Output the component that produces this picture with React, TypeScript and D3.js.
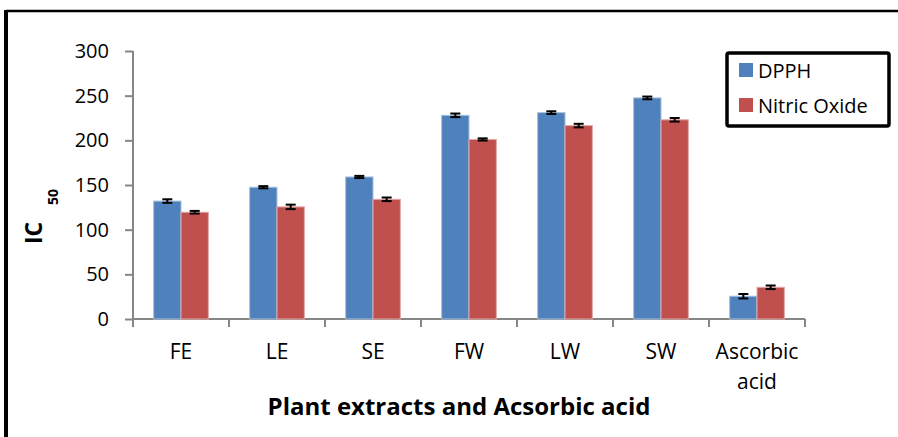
import React, { useEffect, useRef } from 'react';
import * as d3 from 'd3';

const categories = ['FE', 'LE', 'SE', 'FW', 'LW', 'SW', 'Ascorbic acid'];
const seriesNames = ['DPPH', 'Nitric Oxide'];
const dpph = [132, 147.5, 159, 228, 231, 247.5, 25.5];
const nitricOxide = [119.5, 125.5, 134, 201, 216.5, 223, 35.5];
const dpphErr = [2, 1.2, 1.2, 2, 1.5, 1.5, 2.5];
const nitricErr = [1.5, 2.5, 2, 1.2, 2, 2, 2];
const yTicks = [0, 50, 100, 150, 200, 250, 300];

const colors = ['#4F81BD', '#C0504D'];
const edge = ['#A7C0DE', '#E3A9A8'];
const FONT = '"Open Sans", "DejaVu Sans", sans-serif';

const W = 898;
const H = 437;

const App: React.FC = () => {
  const svgRef = useRef<SVGSVGElement>(null);

  useEffect(() => {
    if (!svgRef.current) return;
    const svg = d3.select(svgRef.current);
    svg.selectAll('*').remove();

    // Outer frame (top and left edges visible)
    svg.append('line').attr('x1', 6).attr('x2', W).attr('y1', 11).attr('y2', 11)
      .attr('stroke', '#000').attr('stroke-width', 2.5);
    svg.append('line').attr('x1', 6).attr('x2', 6).attr('y1', 10).attr('y2', H)
      .attr('stroke', '#000').attr('stroke-width', 4);

    const left = 133, right = 805, top = 51, bottom = 319;

    const x = d3.scaleBand<string>()
      .domain(categories)
      .range([left, right])
      .paddingInner(0.43)
      .paddingOuter(0.215);

    const xSub = d3.scaleBand<string>()
      .domain(seriesNames)
      .range([0, x.bandwidth()]);

    const y = d3.scaleLinear().domain([0, 300]).range([bottom, top]);

    const axisColor = '#868686';

    // Y axis
    const yAxis = svg.append('g').attr('transform', `translate(${left},0)`)
      .call(d3.axisLeft(y).tickValues(yTicks).tickSize(8).tickPadding(16));
    yAxis.select('.domain').attr('stroke', axisColor).attr('stroke-width', 2)
      .attr('d', `M0,${top}V${bottom}`);
    yAxis.selectAll('.tick line').attr('stroke', axisColor).attr('stroke-width', 2);
    yAxis.selectAll('.tick text')
      .attr('font-family', FONT).attr('font-size', 20).attr('fill', '#000');

    // X axis line and separators
    svg.append('line').attr('x1', left).attr('x2', right).attr('y1', bottom).attr('y2', bottom)
      .attr('stroke', axisColor).attr('stroke-width', 2);
    const step = x.step();
    const boundaries = d3.range(categories.length + 1).map(i => left + i * step);
    svg.append('g').selectAll('line').data(boundaries).join('line')
      .attr('x1', d => d).attr('x2', d => d)
      .attr('y1', bottom).attr('y2', bottom + 8)
      .attr('stroke', axisColor).attr('stroke-width', 2);

    // Category labels
    const catG = svg.append('g');
    categories.forEach(c => {
      const cx = (x(c) ?? 0) + x.bandwidth() / 2;
      const words = c === 'Ascorbic acid' ? ['Ascorbic', 'acid'] : [c];
      words.forEach((w, i) => {
        catG.append('text')
          .attr('x', cx).attr('y', 359 + i * 30)
          .attr('text-anchor', 'middle')
          .attr('font-family', FONT).attr('font-size', 21)
          .attr('fill', '#000')
          .text(w);
      });
    });

    // Bars
    const seriesValues = [dpph, nitricOxide];
    const seriesErrs = [dpphErr, nitricErr];
    seriesNames.forEach((s, si) => {
      const g = svg.append('g');
      g.selectAll('rect').data(categories).join('rect')
        .attr('x', c => (x(c) ?? 0) + (xSub(s) ?? 0))
        .attr('y', (_c, i) => y(seriesValues[si][i]))
        .attr('width', xSub.bandwidth())
        .attr('height', (_c, i) => bottom - y(seriesValues[si][i]))
        .attr('fill', colors[si])
        .attr('stroke', edge[si])
        .attr('stroke-width', 1);
    });

    // Error bars
    seriesNames.forEach((s, si) => {
      const g = svg.append('g').attr('stroke', '#000').attr('stroke-width', 2);
      categories.forEach((c, i) => {
        const cx = (x(c) ?? 0) + (xSub(s) ?? 0) + xSub.bandwidth() / 2;
        const v = seriesValues[si][i];
        const e = seriesErrs[si][i];
        const y1 = y(v + e), y2 = y(v - e);
        g.append('line').attr('x1', cx).attr('x2', cx).attr('y1', y1).attr('y2', y2);
        g.append('line').attr('x1', cx - 5).attr('x2', cx + 5).attr('y1', y1).attr('y2', y1);
        g.append('line').attr('x1', cx - 5).attr('x2', cx + 5).attr('y1', y2).attr('y2', y2);
      });
    });

    // Y axis title
    const yt = svg.append('text')
      .attr('transform', 'translate(42,244) rotate(-90)')
      .attr('font-family', FONT).attr('font-weight', 'bold').attr('fill', '#000');
    yt.append('tspan').attr('x', 0).attr('y', 0).attr('font-size', 23).text('IC');
    yt.append('tspan').attr('x', 39).attr('y', 16).attr('font-size', 14).text('50');

    // X axis title
    svg.append('text')
      .attr('x', 459).attr('y', 415)
      .attr('text-anchor', 'middle')
      .attr('font-family', FONT).attr('font-weight', 'bold').attr('font-size', 24)
      .attr('fill', '#000')
      .text('Plant extracts and Acsorbic acid');

    // Legend
    const lg = svg.append('g');
    lg.append('rect').attr('x', 727).attr('y', 53).attr('width', 162).attr('height', 73)
      .attr('rx', 2).attr('fill', '#fff').attr('stroke', '#000').attr('stroke-width', 3.5);
    seriesNames.forEach((s, i) => {
      const yy = 63 + i * 35;
      lg.append('rect').attr('x', 739).attr('y', yy).attr('width', 14).attr('height', 14)
        .attr('fill', colors[i]);
      lg.append('text').attr('x', 758).attr('y', yy + 15)
        .attr('font-family', FONT).attr('font-size', 20).attr('fill', '#000')
        .text(s);
    });
  }, []);

  return (
    <svg
      ref={svgRef}
      width={W}
      height={H}
      style={{ position: 'absolute', left: 0, top: 0, background: '#fff' }}
    />
  );
};

export default App;
